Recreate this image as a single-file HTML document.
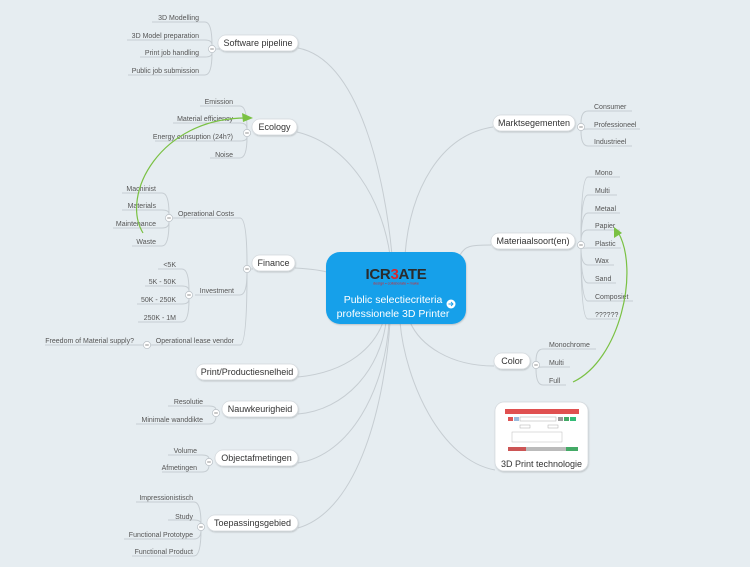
<!DOCTYPE html>
<html><head><meta charset="utf-8"><style>
html,body{margin:0;padding:0;background:#e6edf1;}
svg{display:block;font-family:"Liberation Sans",sans-serif;}
.l{font-size:7px;fill:#555;}
.m{font-size:9px;fill:#333;}
.c{fill:none;stroke:#c6cdd2;stroke-width:1;}
.u{stroke:#c6cdd2;stroke-width:1;}
.p{fill:#fff;stroke:#d4d9dd;stroke-width:0.7;}
.mc{fill:#fff;stroke:#b8bfc5;stroke-width:0.7;}
</style></head><body>
<svg width="750" height="567" viewBox="0 0 750 567" xmlns="http://www.w3.org/2000/svg">
<defs>
<filter id="sh" x="-20%" y="-30%" width="140%" height="170%"><feDropShadow dx="0.5" dy="1" stdDeviation="0.8" flood-color="#000" flood-opacity="0.18"/></filter>
<g id="minus"><circle r="3.6" class="mc"/><line x1="-1.8" x2="1.8" y1="0" y2="0" stroke="#777" stroke-width="0.8"/></g>
</defs>
<rect width="750" height="567" fill="#e6edf1"/>

<!-- main connectors -->
<g class="c">
<path d="M298,48 C360,60 385,180 392,255"/>
<path d="M297,132 C350,145 382,200 390,255"/>
<path d="M295,268 C330,270 340,275 330,280"/>
<path d="M298,377 C350,372 375,345 383,322"/>
<path d="M298,414 C345,410 380,370 386,322"/>
<path d="M298,463 C350,455 385,390 389,322"/>
<path d="M298,528 C360,510 385,400 390,322"/>
<path d="M493,127 C440,135 410,190 405,255"/>
<path d="M491,245 C470,245 465,246 460,255"/>
<path d="M494,366 C450,366 420,345 410,322"/>
<path d="M495,470 C440,460 405,380 400,322"/>
</g>

<!-- Software pipeline leaves -->
<g class="u">
<line x1="152" y1="22" x2="205" y2="22"/><line x1="127" y1="40" x2="205" y2="40"/><line x1="140" y1="57" x2="205" y2="57"/><line x1="128" y1="75" x2="205" y2="75"/>
</g>
<g class="c">
<path d="M205,22 Q212,22 212,45"/><path d="M205,40 Q212,40 212,45"/><path d="M205,57 Q212,57 212,53"/><path d="M205,75 Q212,75 212,53"/>
<path d="M216,49 L220,49"/>
</g>
<g class="l" text-anchor="end">
<text x="199" y="20">3D Modelling</text><text x="199" y="38">3D Model preparation</text><text x="199" y="55">Print job handling</text><text x="199" y="73">Public job submission</text>
</g>
<use href="#minus" x="212" y="49"/>

<!-- Ecology leaves -->
<g class="u">
<line x1="200" y1="106" x2="240" y2="106"/><line x1="173" y1="123" x2="240" y2="123"/><line x1="155" y1="141" x2="240" y2="141"/><line x1="210" y1="158" x2="240" y2="158"/>
</g>
<g class="c">
<path d="M240,106 Q247,106 247,129"/><path d="M240,123 Q247,123 247,129"/><path d="M240,141 Q247,141 247,137"/><path d="M240,158 Q247,158 247,137"/>
</g>
<g class="l" text-anchor="end">
<text x="233" y="104">Emission</text><text x="233" y="121">Material efficiency</text><text x="233" y="139">Energy consuption (24h?)</text><text x="233" y="157">Noise</text>
</g>
<use href="#minus" x="247" y="133"/>

<!-- Finance -->
<g class="u">
<line x1="172" y1="218" x2="240" y2="218"/><line x1="195" y1="295" x2="240" y2="295"/><line x1="151" y1="345" x2="240" y2="345"/>
<line x1="122" y1="193" x2="162" y2="193"/><line x1="122" y1="210" x2="162" y2="210"/><line x1="113" y1="228" x2="162" y2="228"/><line x1="132" y1="246" x2="162" y2="246"/>
<line x1="158" y1="269" x2="182" y2="269"/><line x1="145" y1="286" x2="182" y2="286"/><line x1="137" y1="304" x2="182" y2="304"/><line x1="138" y1="322" x2="182" y2="322"/>
<line x1="45" y1="345" x2="143" y2="345"/>
</g>
<g class="c">
<path d="M240,218 Q247,218 247,265"/><path d="M240,295 Q247,295 247,273"/><path d="M240,345 Q247,345 247,273"/>
<path d="M162,193 Q169,193 169,214"/><path d="M162,210 Q169,210 169,214"/><path d="M162,228 Q169,228 169,222"/><path d="M162,246 Q169,246 169,222"/>
<path d="M173,218 L176,218"/>
<path d="M182,269 Q189,269 189,291"/><path d="M182,286 Q189,286 189,291"/><path d="M182,304 Q189,304 189,299"/><path d="M182,322 Q189,322 189,299"/>
<path d="M251,269 L253,269"/>
</g>
<g class="l" text-anchor="end">
<text x="234" y="216">Operational Costs</text><text x="234" y="293">Investment</text><text x="234" y="343">Operational lease vendor</text>
<text x="156" y="191">Machinist</text><text x="156" y="208">Materials</text><text x="156" y="226">Maintenance</text><text x="156" y="244">Waste</text>
<text x="176" y="267">&lt;5K</text><text x="176" y="284">5K - 50K</text><text x="176" y="302">50K - 250K</text><text x="176" y="320">250K - 1M</text>
<text x="134" y="343">Freedom of Material supply?</text>
</g>
<use href="#minus" x="247" y="269"/><use href="#minus" x="169" y="218"/><use href="#minus" x="189" y="295"/><use href="#minus" x="147" y="345"/>

<!-- Nauwkeurigheid -->
<g class="u"><line x1="168" y1="406" x2="209" y2="406"/><line x1="136" y1="424" x2="209" y2="424"/>
<line x1="168" y1="455" x2="202" y2="455"/><line x1="162" y1="472" x2="202" y2="472"/>
<line x1="136" y1="502" x2="194" y2="502"/><line x1="168" y1="520" x2="194" y2="520"/><line x1="124" y1="539" x2="194" y2="539"/><line x1="132" y1="556" x2="194" y2="556"/></g>
<g class="c">
<path d="M209,406 Q216,406 216,410"/><path d="M209,424 Q216,424 216,416"/>
<path d="M202,455 Q209,455 209,459"/><path d="M202,472 Q209,472 209,465"/>
<path d="M194,502 Q201,502 201,524"/><path d="M194,520 Q201,520 201,524"/><path d="M194,539 Q201,539 201,530"/><path d="M194,556 Q201,556 201,530"/>
</g>
<g class="l" text-anchor="end">
<text x="203" y="404">Resolutie</text><text x="203" y="422">Minimale wanddikte</text>
<text x="197" y="453">Volume</text><text x="197" y="470">Afmetingen</text>
<text x="193" y="500">Impressionistisch</text><text x="193" y="519">Study</text><text x="193" y="537">Functional Prototype</text><text x="193" y="554">Functional Product</text>
</g>
<use href="#minus" x="216" y="413"/><use href="#minus" x="209" y="462"/><use href="#minus" x="201" y="527"/>

<!-- Right leaves -->
<g class="u">
<line x1="588" y1="111" x2="632" y2="111"/><line x1="588" y1="129" x2="640" y2="129"/><line x1="588" y1="146" x2="632" y2="146"/>
<line x1="588" y1="177" x2="620" y2="177"/><line x1="588" y1="195" x2="617" y2="195"/><line x1="588" y1="213" x2="620" y2="213"/><line x1="588" y1="230" x2="620" y2="230"/><line x1="588" y1="248" x2="621" y2="248"/><line x1="588" y1="265" x2="614" y2="265"/><line x1="588" y1="283" x2="616" y2="283"/><line x1="588" y1="301" x2="633" y2="301"/><line x1="588" y1="319" x2="617" y2="319"/>
<line x1="543" y1="349" x2="596" y2="349"/><line x1="543" y1="367" x2="570" y2="367"/><line x1="543" y1="385" x2="566" y2="385"/>
</g>
<g class="c">
<path d="M588,111 Q581,111 581,123"/><path d="M588,129 Q581,129 581,131"/><path d="M588,146 Q581,146 581,131"/>
<path d="M588,177 Q581,177 581,241"/><path d="M588,195 Q581,195 581,241"/><path d="M588,213 Q581,213 581,241"/><path d="M588,230 Q581,230 581,241"/><path d="M588,248 Q581,248 581,249"/><path d="M588,265 Q581,265 581,249"/><path d="M588,283 Q581,283 581,249"/><path d="M588,301 Q581,301 581,249"/><path d="M588,319 Q581,319 581,249"/>
<path d="M543,349 Q536,349 536,361"/><path d="M543,367 Q536,367 536,369"/><path d="M543,385 Q536,385 536,369"/>
</g>
<g class="l">
<text x="594" y="109">Consumer</text><text x="594" y="127">Professioneel</text><text x="594" y="144">Industrieel</text>
<text x="595" y="175">Mono</text><text x="595" y="193">Multi</text><text x="595" y="211">Metaal</text><text x="595" y="228">Papier</text><text x="595" y="246">Plastic</text><text x="595" y="263">Wax</text><text x="595" y="281">Sand</text><text x="595" y="299">Composiet</text><text x="595" y="317">??????</text>
<text x="549" y="347">Monochrome</text><text x="549" y="365">Multi</text><text x="549" y="383">Full</text>
</g>
<use href="#minus" x="581" y="127"/><use href="#minus" x="581" y="245"/><use href="#minus" x="536" y="365"/>

<!-- main pills -->
<g filter="url(#sh)">
<rect class="p" x="218" y="35" width="80" height="16" rx="8"/>
<rect class="p" x="252" y="119" width="45" height="16" rx="8"/>
<rect class="p" x="252" y="255" width="43" height="16" rx="8"/>
<rect class="p" x="196" y="364" width="102" height="16" rx="8"/>
<rect class="p" x="222" y="401" width="76" height="16" rx="8"/>
<rect class="p" x="215" y="450" width="83" height="16" rx="8"/>
<rect class="p" x="207" y="515" width="91" height="16" rx="8"/>
<rect class="p" x="493" y="115" width="82" height="16" rx="8"/>
<rect class="p" x="491" y="233" width="84" height="16" rx="8"/>
<rect class="p" x="494" y="353" width="36" height="16" rx="8"/>
<rect class="p" x="495" y="402" width="93" height="69" rx="9"/>
</g>
<g class="m" text-anchor="middle">
<text x="258" y="46">Software pipeline</text>
<text x="274.5" y="130">Ecology</text>
<text x="273.5" y="266">Finance</text>
<text x="247" y="375">Print/Productiesnelheid</text>
<text x="260" y="412">Nauwkeurigheid</text>
<text x="256.5" y="461">Objectafmetingen</text>
<text x="252.5" y="526">Toepassingsgebied</text>
<text x="534" y="126">Marktsegementen</text>
<text x="533" y="244">Materiaalsoort(en)</text>
<text x="512" y="364">Color</text>
<text x="541.5" y="467">3D Print technologie</text>
</g>
<!-- thumbnail -->
<g>
<rect x="503" y="407" width="78" height="47" fill="#fff"/>
<rect x="505" y="409" width="74" height="5" fill="#e05050"/>
<rect x="508" y="417" width="5" height="4" fill="#d55"/><rect x="514" y="417" width="5" height="4" fill="#9bd"/>
<rect x="520" y="417" width="36" height="4" fill="none" stroke="#aaa" stroke-width="0.5"/>
<rect x="558" y="417" width="5" height="4" fill="#999"/><rect x="564" y="417" width="5" height="4" fill="#4a6"/><rect x="570" y="417" width="6" height="4" fill="#3b7"/>
<rect x="520" y="425" width="10" height="3" fill="none" stroke="#aaa" stroke-width="0.5"/><rect x="548" y="425" width="10" height="3" fill="none" stroke="#aaa" stroke-width="0.5"/>
<rect x="512" y="432" width="50" height="10" fill="none" stroke="#bbb" stroke-width="0.5"/>
<rect x="508" y="447" width="70" height="4" fill="#bbb"/>
<rect x="508" y="447" width="18" height="4" fill="#c55"/><rect x="566" y="447" width="12" height="4" fill="#4a6"/>
</g>

<!-- green arrows -->
<g fill="none" stroke="#7ac143" stroke-width="1.2">
<path d="M143,233 C120,195 160,118 246,118"/>
<path d="M573,382 C620,360 640,270 618,232"/>
</g>
<polygon points="253,118 242,113 243,122" fill="#7ac143"/>
<polygon points="614,227 614,238 622,233" fill="#7ac143"/>

<!-- center -->
<rect x="326" y="252" width="140" height="72" rx="14" fill="#18a0ea" filter="url(#sh)"/>
<text x="396" y="279" text-anchor="middle" font-size="15" font-weight="bold" fill="#2b2b2b" letter-spacing="-0.3">ICR<tspan fill="#d8272d">3</tspan>ATE</text>
<text x="396" y="284.5" text-anchor="middle" font-size="3.8" fill="#d8272d">design • collaborate • make</text>
<text x="393" y="303" text-anchor="middle" font-size="10.5" fill="#fff">Public selectiecriteria</text>
<text x="393" y="317" text-anchor="middle" font-size="10.5" fill="#fff">professionele 3D Printer</text>
<circle cx="451" cy="304" r="4.5" fill="#fff"/>
<path d="M448.5,304 L453,304 M451,302 L453,304 L451,306" stroke="#18a0ea" stroke-width="0.9" fill="none"/>
</svg>
</body></html>
